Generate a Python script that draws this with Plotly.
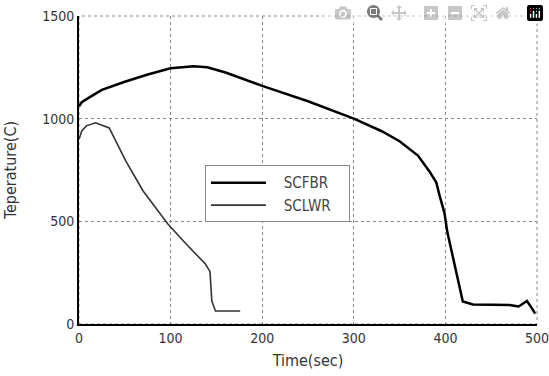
import plotly.graph_objects as go

# SCFBR (thick line)
scfbr_t = [0, 3, 10, 25, 50, 75, 100, 125, 140, 160, 200, 250, 300, 330, 350, 370, 383, 390, 394, 399, 402, 408, 413, 419, 430, 450, 470, 480, 485, 489, 494, 498]
scfbr_T = [1060, 1080, 1100, 1140, 1180, 1215, 1245, 1255, 1250, 1225, 1160, 1085, 1000, 940, 890, 820, 740, 690, 620, 540, 450, 330, 225, 110, 95, 93, 92, 85, 100, 112, 80, 50]

# SCLWR (thin line)
sclwr_t = [0, 3, 8, 18, 33, 42, 51, 70, 97, 117, 138, 143, 144, 145, 149, 176]
sclwr_T = [900, 940, 965, 980, 955, 877, 794, 648, 487, 390, 292, 255, 180, 112, 63, 63]

x_ticks = [0, 100, 200, 300, 400, 500]
y_ticks = [0, 500, 1000, 1500]

NB = "\u00a0"
TICKFONT = "DejaVu Sans Condensed, sans-serif"

fig = go.Figure()
fig.add_trace(go.Scatter(x=scfbr_t, y=scfbr_T, mode="lines", name=NB * 3 + "SCFBR" + NB * 3,
                         line=dict(color="black", width=2.5)))
fig.add_trace(go.Scatter(x=sclwr_t, y=sclwr_T, mode="lines", name=NB * 3 + "SCLWR" + NB * 3,
                         line=dict(color="#333333", width=1.6)))

fig.update_layout(
    width=549, height=376,
    margin=dict(l=79, r=12, t=16, b=52, autoexpand=False),
    paper_bgcolor="white", plot_bgcolor="white",
    font=dict(family="DejaVu Sans Condensed, Liberation Sans, sans-serif", size=13, color="#333333"),
    legend=dict(x=0.275, y=0.515, xanchor="left", yanchor="top",
                bordercolor="#888888", borderwidth=1, bgcolor="white",
                itemwidth=55, font=dict(size=15, color="#444444")),
    showlegend=True,
)
fig.update_xaxes(range=[0, 500], tickvals=x_ticks, ticktext=[str(v) for v in x_ticks],
                 showgrid=True, gridcolor="#888888", griddash="dot", gridwidth=1,
                 showline=True, linecolor="black", linewidth=2, mirror=False,
                 zeroline=False, ticks="", automargin=False, ticklabelstandoff=0,
                 ticklabeloverflow="allow",
                 tickfont=dict(family=TICKFONT, size=14, color="#333333"),
                 title=dict(text="Time(sec)", standoff=10,
                 font=dict(size=16, color="#333333")))
fig.update_yaxes(range=[0, 1500], tickvals=y_ticks, ticktext=[str(v) for v in y_ticks],
                 showgrid=True, gridcolor="#888888", griddash="dot", gridwidth=1,
                 showline=True, linecolor="black", linewidth=2, mirror=False,
                 zeroline=False, ticks="", automargin=False, ticklabelstandoff=0,
                 ticklabeloverflow="allow",
                 tickfont=dict(family=TICKFONT, size=14, color="#333333"),
                 title=dict(text="Teperature(C)", standoff=22,
                 font=dict(size=16, color="#333333")))
# dotted top/right frame
fig.add_shape(type="rect", xref="paper", yref="paper", x0=0, y0=0, x1=1, y1=1,
              line=dict(color="#888888", width=1, dash="dot"), layer="below")

fig.write_html("out.html",
               post_script="document.body.style.margin='0';document.body.style.overflow='hidden';")
